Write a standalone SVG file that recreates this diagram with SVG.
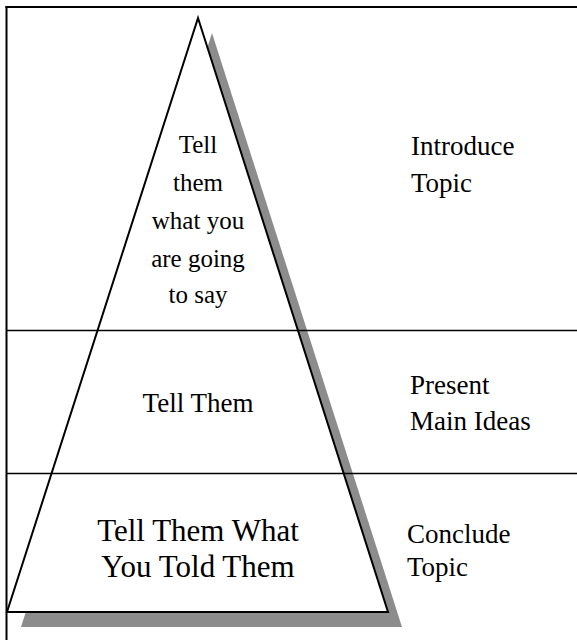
<svg xmlns="http://www.w3.org/2000/svg" width="577" height="640" viewBox="0 0 577 640">
<style>
.lbl{font-family:"Liberation Serif","Times New Roman",serif;fill:#000;}
.frame{stroke:#000;fill:none;}
</style>
<rect x="0" y="0" width="577" height="640" fill="#fff"/>
<g id="pyramid">
<polygon points="212,33 402,627 21,627" fill="#8c8c8c"/>
<polygon points="198,18 388,612 7,612" fill="#fff" stroke="#000" stroke-width="2" stroke-linejoin="miter"/>
</g>
<g id="connectors">
<line class="frame" x1="5.5" y1="7" x2="577" y2="7" stroke-width="2"/>
<line class="frame" x1="6.5" y1="6" x2="6.5" y2="640" stroke-width="2"/>
<line class="frame" x1="6" y1="330.5" x2="577" y2="330.5" stroke-width="1.6"/>
<line class="frame" x1="6" y1="473.5" x2="577" y2="473.5" stroke-width="1.6"/>
</g>
<g id="tier-top" class="lbl" font-size="25" text-anchor="middle">
<text x="198" y="153">Tell</text>
<text x="198" y="191">them</text>
<text x="198" y="229">what you</text>
<text x="198" y="267">are going</text>
<text x="198" y="303">to say</text>
</g>
<g id="tier-middle" class="lbl" font-size="27" text-anchor="middle">
<text x="198" y="412">Tell Them</text>
</g>
<g id="tier-bottom" class="lbl" font-size="31" text-anchor="middle">
<text x="198" y="541">Tell Them What</text>
<text x="198" y="577">You Told Them</text>
</g>
<g id="label-introduce" class="lbl" font-size="27">
<text x="411" y="155">Introduce</text>
<text x="411" y="192">Topic</text>
</g>
<g id="label-present" class="lbl" font-size="27">
<text x="410" y="394">Present</text>
<text x="410" y="430">Main Ideas</text>
</g>
<g id="label-conclude" class="lbl" font-size="27">
<text x="407" y="543">Conclude</text>
<text x="407" y="576">Topic</text>
</g>
</svg>
